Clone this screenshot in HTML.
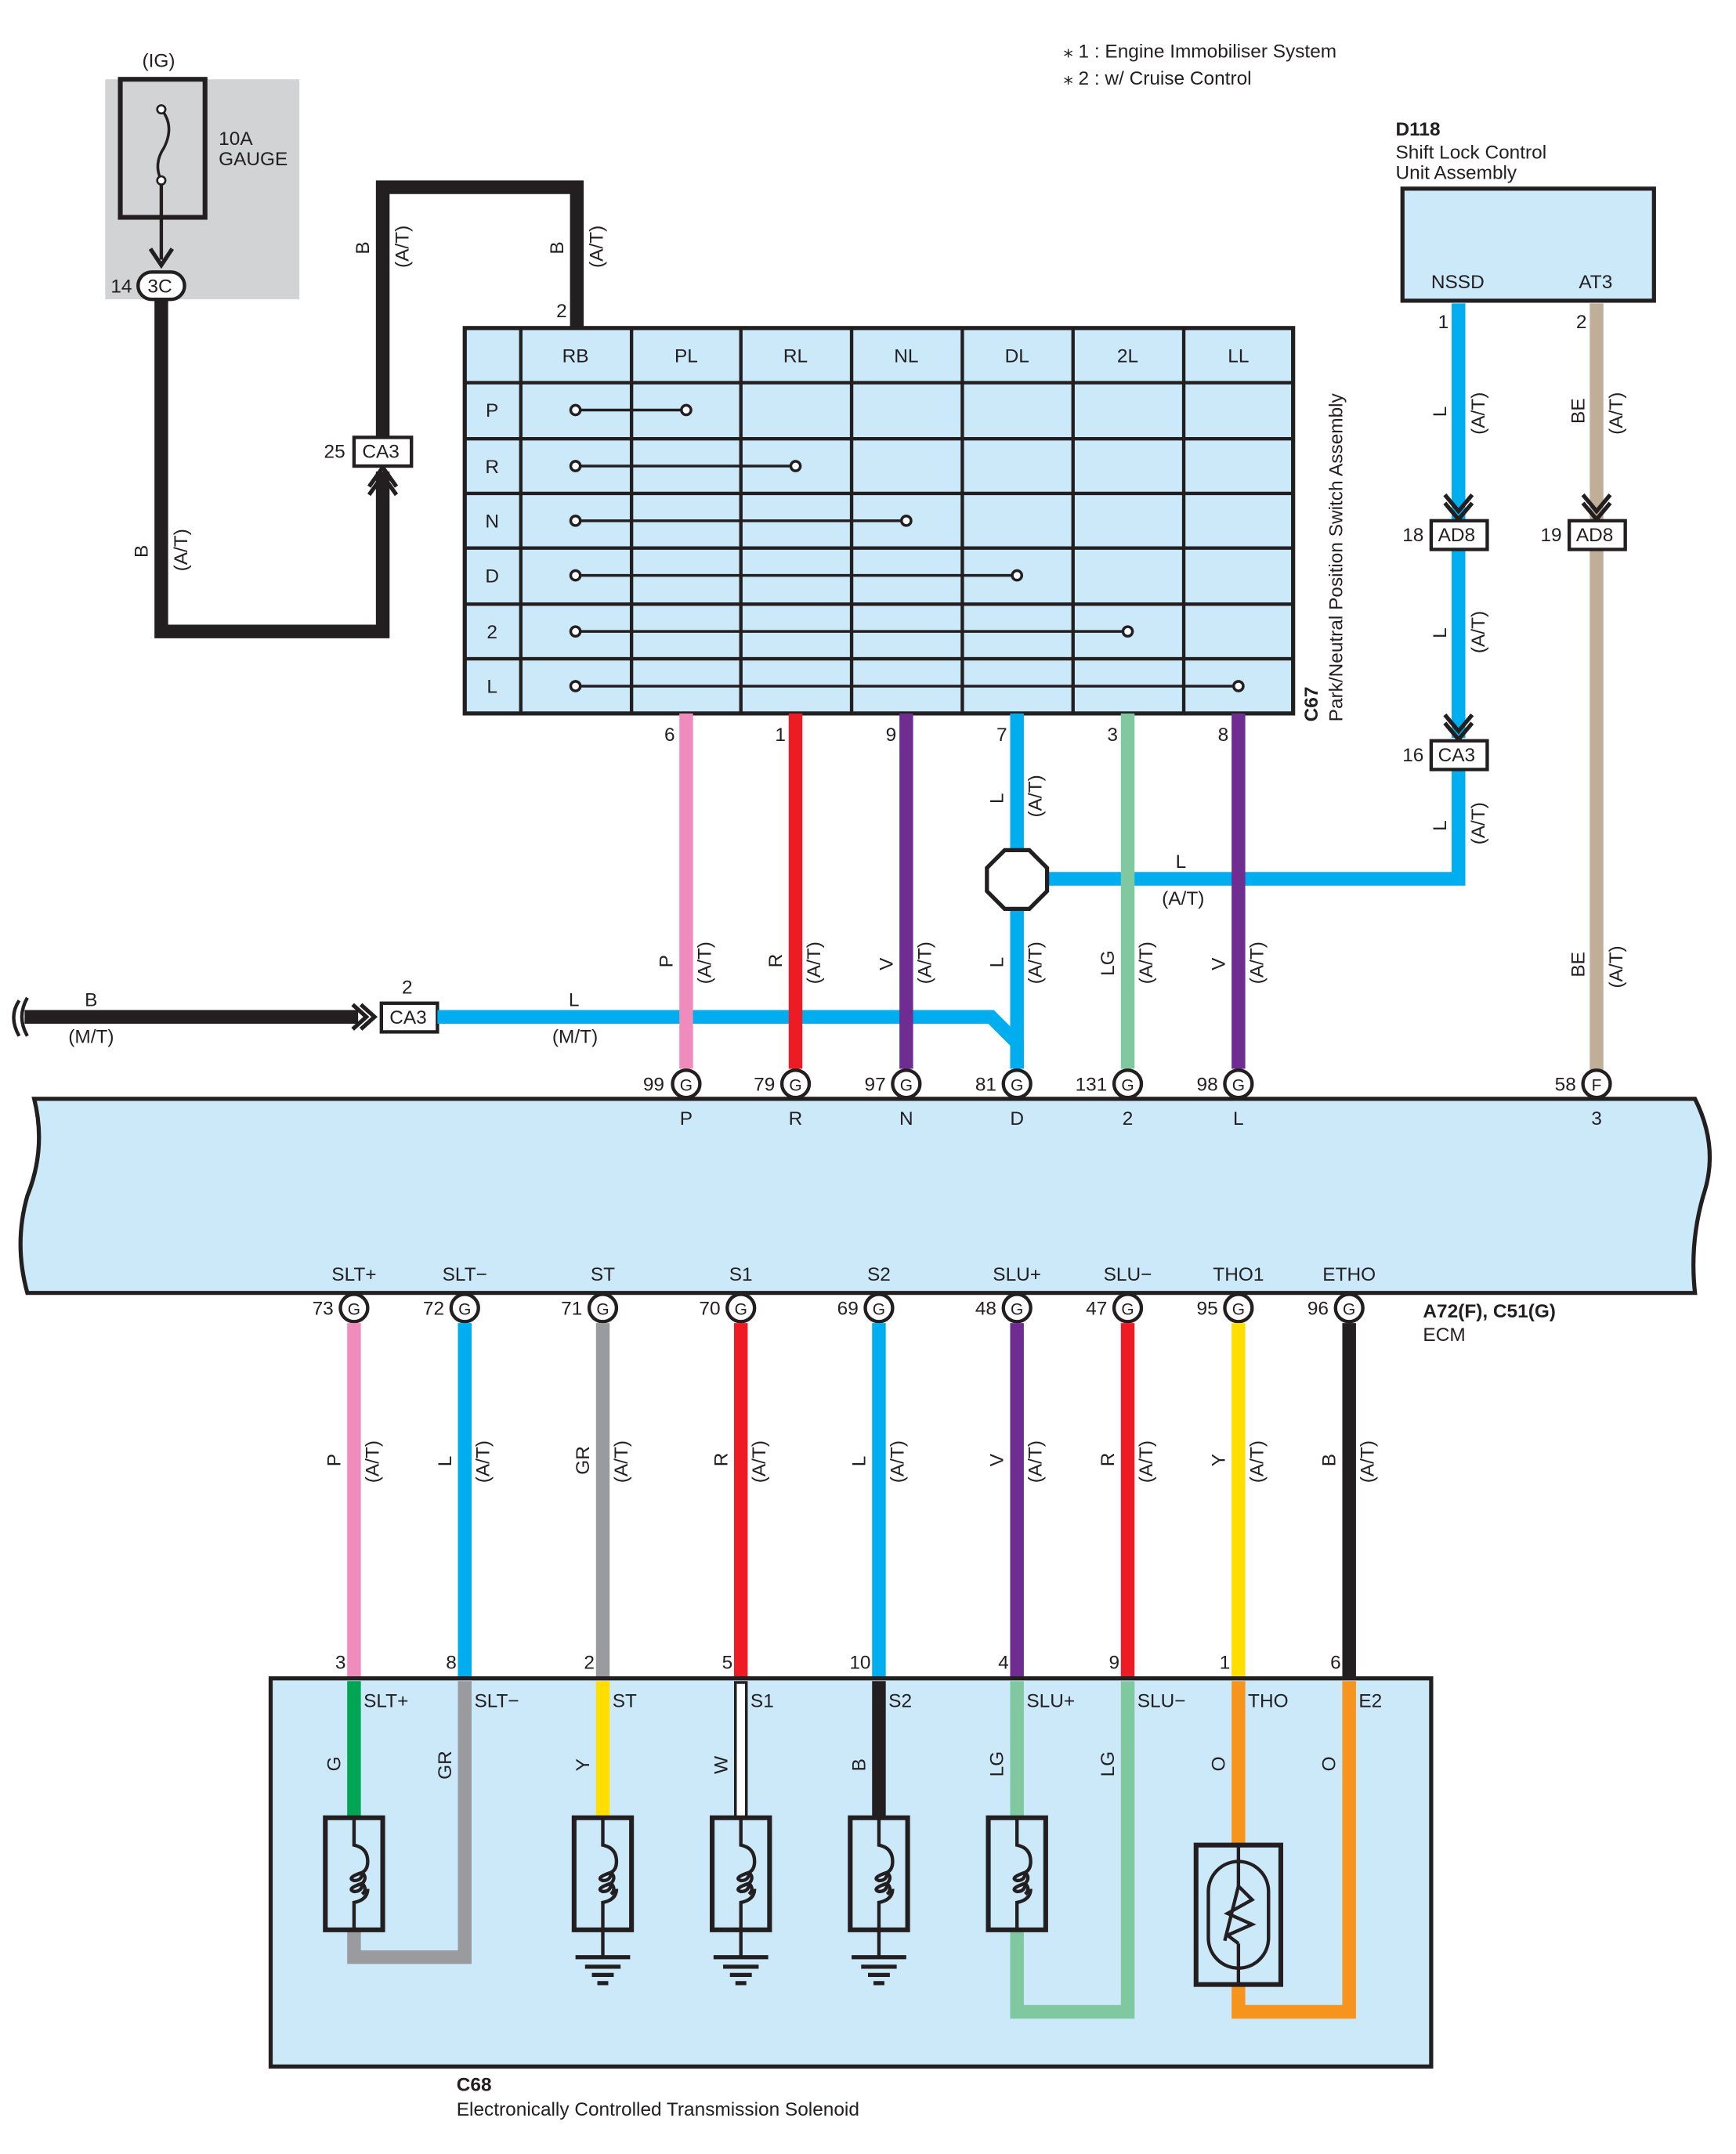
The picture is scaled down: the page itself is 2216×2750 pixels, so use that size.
<!DOCTYPE html>
<html><head><meta charset="utf-8"><style>
html,body{margin:0;padding:0;background:#fff}
svg{display:block}
text{font-family:"Liberation Sans",Arial,sans-serif;font-size:14px;fill:#231f20}
.b{font-weight:bold}
</style></head><body>
<svg width="2216" height="2750" viewBox="0 0 1270 1576" xmlns="http://www.w3.org/2000/svg">
<defs>
<g id="coil">
<rect x="-21" y="0" width="42" height="82" fill="none" stroke="#231f20" stroke-width="3.5"/>
<path d="M0,0 V20 Q10,22 10,32 Q10,38 6,40 Q-6,44 0,46 Q6,46 6,40 M6,40 Q10,44 6,48 Q-6,52 0,54 Q6,54 6,48 M6,48 Q10,52 6,56 M6,40 M10,52 Q10,60 0,62 V82" fill="none" stroke="#231f20" stroke-width="2.5"/>
</g>
<g id="gnd">
<line x1="0" y1="0" x2="0" y2="20" stroke="#231f20" stroke-width="2.5"/>
<line x1="-20" y1="20" x2="20" y2="20" stroke="#231f20" stroke-width="3"/>
<line x1="-13" y1="27" x2="13" y2="27" stroke="#231f20" stroke-width="3"/>
<line x1="-8" y1="33" x2="8" y2="33" stroke="#231f20" stroke-width="3"/>
<line x1="-4" y1="39" x2="4" y2="39" stroke="#231f20" stroke-width="3"/>
</g>
</defs>

<!-- notes -->
<text x="778" y="42">⁎ 1 : Engine Immobiliser System</text>
<text x="778" y="62">⁎ 2 : w/ Cruise Control</text>

<!-- fuse -->
<rect x="77" y="58" width="142" height="161" fill="#d1d3d4"/>
<text x="104" y="49">(IG)</text>
<rect x="88" y="58" width="62" height="101" fill="none" stroke="#231f20" stroke-width="3.5"/>
<path d="M118,80 Q128,92 120,108 Q112,120 118,132" fill="none" stroke="#231f20" stroke-width="2"/>
<circle cx="118" cy="80" r="3" fill="#fff" stroke="#231f20" stroke-width="1.5"/>
<circle cx="118" cy="132" r="3" fill="#fff" stroke="#231f20" stroke-width="1.5"/>
<line x1="118" y1="135" x2="118" y2="190" stroke="#231f20" stroke-width="2.5"/>
<path d="M110,182 L118,194 L126,182" fill="none" stroke="#231f20" stroke-width="3"/>
<text x="160" y="106">10A</text><text x="160" y="121">GAUGE</text>

<!-- black wire IG -->
<path d="M118,215 V462 H280 V345 M280,320 V137 H422 V240" fill="none" stroke="#231f20" stroke-width="10"/>
<path d="M270,362 L280,348 L290,362 M270,356 L280,342 L290,356" fill="none" stroke="#231f20" stroke-width="3"/>
<rect x="101" y="199" width="34" height="20" rx="10" fill="#fff" stroke="#231f20" stroke-width="2.5"/>
<text x="108" y="214">3C</text><text x="81" y="214">14</text>
<rect x="259" y="320" width="42" height="21" fill="#fff" stroke="#231f20" stroke-width="2.5"/>
<text x="265" y="335">CA3</text><text x="237" y="335">25</text>
<text x="407" y="232">2</text>
<text transform="translate(108,408) rotate(-90)">B</text>
<text transform="translate(137,418) rotate(-90)">(A/T)</text>
<text transform="translate(270,186) rotate(-90)">B</text>
<text transform="translate(299,196) rotate(-90)">(A/T)</text>
<text transform="translate(412,186) rotate(-90)">B</text>
<text transform="translate(441,196) rotate(-90)">(A/T)</text>

<!-- switch table -->
<rect x="340" y="240" width="606" height="282" fill="#cce9f9" stroke="#231f20" stroke-width="3"/>
<g stroke="#231f20" stroke-width="2.5">
<line x1="381" y1="240" x2="381" y2="522"/><line x1="462" y1="240" x2="462" y2="522"/>
<line x1="542" y1="240" x2="542" y2="522"/><line x1="623" y1="240" x2="623" y2="522"/>
<line x1="704" y1="240" x2="704" y2="522"/><line x1="785" y1="240" x2="785" y2="522"/>
<line x1="866" y1="240" x2="866" y2="522"/>
<line x1="340" y1="280" x2="946" y2="280"/><line x1="340" y1="321" x2="946" y2="321"/>
<line x1="340" y1="361" x2="946" y2="361"/><line x1="340" y1="401" x2="946" y2="401"/>
<line x1="340" y1="442" x2="946" y2="442"/><line x1="340" y1="482" x2="946" y2="482"/>
</g>
<g stroke="#231f20" stroke-width="2" fill="#fff">
<line x1="421" y1="300" x2="502" y2="300"/><line x1="421" y1="341" x2="582" y2="341"/>
<line x1="421" y1="381" x2="663" y2="381"/><line x1="421" y1="421" x2="744" y2="421"/>
<line x1="421" y1="462" x2="825" y2="462"/><line x1="421" y1="502" x2="906" y2="502"/>
<circle cx="421" cy="300" r="3.5"/><circle cx="502" cy="300" r="3.5"/>
<circle cx="421" cy="341" r="3.5"/><circle cx="582" cy="341" r="3.5"/>
<circle cx="421" cy="381" r="3.5"/><circle cx="663" cy="381" r="3.5"/>
<circle cx="421" cy="421" r="3.5"/><circle cx="744" cy="421" r="3.5"/>
<circle cx="421" cy="462" r="3.5"/><circle cx="825" cy="462" r="3.5"/>
<circle cx="421" cy="502" r="3.5"/><circle cx="906" cy="502" r="3.5"/>
</g>
<g text-anchor="middle">
<text x="421" y="265">RB</text><text x="502" y="265">PL</text><text x="582" y="265">RL</text>
<text x="663" y="265">NL</text><text x="744" y="265">DL</text><text x="825" y="265">2L</text><text x="906" y="265">LL</text>
<text x="360" y="305">P</text><text x="360" y="346">R</text><text x="360" y="386">N</text>
<text x="360" y="426">D</text><text x="360" y="467">2</text><text x="360" y="507">L</text>
</g>
<text class="b" transform="translate(964,528) rotate(-90)">C67</text>
<text transform="translate(982,528) rotate(-90)">Park/Neutral Position Switch Assembly</text>

<!-- D118 -->
<text class="b" x="1021" y="99">D118</text>
<text x="1021" y="116">Shift Lock Control</text>
<text x="1021" y="131">Unit Assembly</text>
<rect x="1026" y="138" width="184" height="82" fill="#cce9f9" stroke="#231f20" stroke-width="3"/>
<text x="1047" y="211">NSSD</text><text x="1155" y="211">AT3</text>

<!-- right wires -->
<path d="M1067,222 V380 M1067,402 V540 M1067,564 V643 H766" fill="none" stroke="#00aeef" stroke-width="10"/>
<path d="M1168,222 V380 M1168,402 V793" fill="none" stroke="#bfae98" stroke-width="10"/>
<g fill="none" stroke="#231f20" stroke-width="3">
<path d="M1057,362 L1067,374 L1077,362 M1057,368 L1067,380 L1077,368"/>
<path d="M1158,362 L1168,374 L1178,362 M1158,368 L1168,380 L1178,368"/>
<path d="M1057,523 L1067,535 L1077,523 M1057,529 L1067,541 L1077,529"/>
</g>
<rect x="1047" y="381" width="41" height="21" fill="#fff" stroke="#231f20" stroke-width="2.5"/><text x="1052" y="396">AD8</text><text x="1026" y="396">18</text>
<rect x="1148" y="381" width="41" height="21" fill="#fff" stroke="#231f20" stroke-width="2.5"/><text x="1153" y="396">AD8</text><text x="1127" y="396">19</text>
<rect x="1047" y="542" width="41" height="21" fill="#fff" stroke="#231f20" stroke-width="2.5"/><text x="1052" y="557">CA3</text><text x="1026" y="557">16</text>
<text x="1052" y="240">1</text><text x="1153" y="240">2</text>
<text transform="translate(1058,305) rotate(-90)">L</text><text transform="translate(1086,318) rotate(-90)">(A/T)</text>
<text transform="translate(1159,310) rotate(-90)">BE</text><text transform="translate(1187,318) rotate(-90)">(A/T)</text>
<text transform="translate(1058,467) rotate(-90)">L</text><text transform="translate(1086,478) rotate(-90)">(A/T)</text>
<text transform="translate(1058,608) rotate(-90)">L</text><text transform="translate(1086,618) rotate(-90)">(A/T)</text>
<text transform="translate(1159,715) rotate(-90)">BE</text><text transform="translate(1187,723) rotate(-90)">(A/T)</text>
<text x="860" y="635">L</text><text x="850" y="662">(A/T)</text>

<!-- left M/T wire -->
<path d="M18,744 H262" stroke="#231f20" stroke-width="10" fill="none"/>
<path d="M20,730 Q12,744 20,758 M14,732 Q6,744 14,758" stroke="#231f20" stroke-width="2.5" fill="none"/>
<path d="M258,735 L268,744 L258,753 M264,735 L274,744 L264,753" stroke="#231f20" stroke-width="3" fill="none"/>
<rect x="279" y="734" width="41" height="21" fill="#fff" stroke="#231f20" stroke-width="2.5"/><text x="285" y="749">CA3</text>
<text x="294" y="727">2</text>
<text x="62" y="736">B</text><text x="50" y="763">(M/T)</text>
<text x="416" y="736">L</text><text x="404" y="763">(M/T)</text>
<path d="M320,744 H725 L744,763 V782" stroke="#00aeef" stroke-width="10" fill="none"/>

<!-- C67 wires -->
<path d="M502,522 V782" stroke="#f08cbc" stroke-width="10"/>
<path d="M582,522 V782" stroke="#ed1c24" stroke-width="10"/>
<path d="M663,522 V782" stroke="#6f2c91" stroke-width="10"/>
<path d="M744,522 V622 M744,664 V782" stroke="#00aeef" stroke-width="10"/>
<path d="M825,522 V782" stroke="#80c9a0" stroke-width="10"/>
<path d="M906,522 V782" stroke="#6f2c91" stroke-width="10"/>
<polygon points="735,622 753,622 766,635 766,652 753,665 735,665 722,652 722,635" fill="#fff" stroke="#231f20" stroke-width="3"/>
<text x="486" y="542">6</text><text x="567" y="542">1</text><text x="648" y="542">9</text>
<text x="729" y="542">7</text><text x="810" y="542">3</text><text x="891" y="542">8</text>
<text transform="translate(492,708) rotate(-90)">P</text><text transform="translate(520,720) rotate(-90)">(A/T)</text>
<text transform="translate(572,708) rotate(-90)">R</text><text transform="translate(600,720) rotate(-90)">(A/T)</text>
<text transform="translate(653,710) rotate(-90)">V</text><text transform="translate(681,720) rotate(-90)">(A/T)</text>
<text transform="translate(734,708) rotate(-90)">L</text><text transform="translate(762,720) rotate(-90)">(A/T)</text>
<text transform="translate(734,588) rotate(-90)">L</text><text transform="translate(762,598) rotate(-90)">(A/T)</text>
<text transform="translate(815,714) rotate(-90)">LG</text><text transform="translate(843,720) rotate(-90)">(A/T)</text>
<text transform="translate(896,710) rotate(-90)">V</text><text transform="translate(924,720) rotate(-90)">(A/T)</text>

<!-- ECM -->
<path d="M25,804 H1240 Q1258,840 1246,875 Q1236,910 1240,946 H20 Q10,910 20,875 Q34,840 25,804 Z" fill="#cce9f9" stroke="#231f20" stroke-width="3"/>
<g fill="#fff" stroke="#231f20" stroke-width="2.5">
<circle cx="502" cy="793" r="10"/><circle cx="582" cy="793" r="10"/><circle cx="663" cy="793" r="10"/>
<circle cx="744" cy="793" r="10"/><circle cx="825" cy="793" r="10"/><circle cx="906" cy="793" r="10"/><circle cx="1168" cy="793" r="10"/>
<circle cx="259" cy="957" r="10"/><circle cx="340" cy="957" r="10"/><circle cx="441" cy="957" r="10"/>
<circle cx="542" cy="957" r="10"/><circle cx="643" cy="957" r="10"/><circle cx="744" cy="957" r="10"/>
<circle cx="825" cy="957" r="10"/><circle cx="906" cy="957" r="10"/><circle cx="987" cy="957" r="10"/>
</g>
<g text-anchor="middle" font-size="12">
<text x="502" y="798" style="font-size:12px">G</text><text x="582" y="798" style="font-size:12px">G</text><text x="663" y="798" style="font-size:12px">G</text>
<text x="744" y="798" style="font-size:12px">G</text><text x="825" y="798" style="font-size:12px">G</text><text x="906" y="798" style="font-size:12px">G</text><text x="1168" y="798" style="font-size:12px">F</text>
<text x="259" y="962" style="font-size:12px">G</text><text x="340" y="962" style="font-size:12px">G</text><text x="441" y="962" style="font-size:12px">G</text>
<text x="542" y="962" style="font-size:12px">G</text><text x="643" y="962" style="font-size:12px">G</text><text x="744" y="962" style="font-size:12px">G</text>
<text x="825" y="962" style="font-size:12px">G</text><text x="906" y="962" style="font-size:12px">G</text><text x="987" y="962" style="font-size:12px">G</text>
<text x="502" y="823">P</text><text x="582" y="823">R</text><text x="663" y="823">N</text><text x="744" y="823">D</text>
<text x="825" y="823">2</text><text x="906" y="823">L</text><text x="1168" y="823">3</text>
<text x="259" y="937">SLT+</text><text x="340" y="937">SLT−</text><text x="441" y="937">ST</text><text x="542" y="937">S1</text>
<text x="643" y="937">S2</text><text x="744" y="937">SLU+</text><text x="825" y="937">SLU−</text><text x="906" y="937">THO1</text><text x="987" y="937">ETHO</text>
</g>
<g text-anchor="end">
<text x="486" y="798">99</text><text x="567" y="798">79</text><text x="648" y="798">97</text><text x="729" y="798">81</text>
<text x="810" y="798">131</text><text x="891" y="798">98</text><text x="1153" y="798">58</text>
<text x="244" y="962">73</text><text x="325" y="962">72</text><text x="426" y="962">71</text><text x="527" y="962">70</text>
<text x="628" y="962">69</text><text x="729" y="962">48</text><text x="810" y="962">47</text><text x="891" y="962">95</text><text x="972" y="962">96</text>
</g>
<text class="b" x="1041" y="964">A72(F), C51(G)</text>
<text x="1041" y="981">ECM</text>

<!-- bottom wires -->
<path d="M259,968 V1228" stroke="#f08cbc" stroke-width="10"/>
<path d="M340,968 V1228" stroke="#00aeef" stroke-width="10"/>
<path d="M441,968 V1228" stroke="#999b9e" stroke-width="10"/>
<path d="M542,968 V1228" stroke="#ed1c24" stroke-width="10"/>
<path d="M643,968 V1228" stroke="#00aeef" stroke-width="10"/>
<path d="M744,968 V1228" stroke="#6f2c91" stroke-width="10"/>
<path d="M825,968 V1228" stroke="#ed1c24" stroke-width="10"/>
<path d="M906,968 V1228" stroke="#ffde00" stroke-width="10"/>
<path d="M987,968 V1228" stroke="#231f20" stroke-width="10"/>
<text transform="translate(249,1073) rotate(-90)">P</text><text transform="translate(277,1085) rotate(-90)">(A/T)</text>
<text transform="translate(330,1073) rotate(-90)">L</text><text transform="translate(358,1085) rotate(-90)">(A/T)</text>
<text transform="translate(431,1079) rotate(-90)">GR</text><text transform="translate(459,1085) rotate(-90)">(A/T)</text>
<text transform="translate(532,1073) rotate(-90)">R</text><text transform="translate(560,1085) rotate(-90)">(A/T)</text>
<text transform="translate(633,1073) rotate(-90)">L</text><text transform="translate(661,1085) rotate(-90)">(A/T)</text>
<text transform="translate(734,1073) rotate(-90)">V</text><text transform="translate(762,1085) rotate(-90)">(A/T)</text>
<text transform="translate(815,1073) rotate(-90)">R</text><text transform="translate(843,1085) rotate(-90)">(A/T)</text>
<text transform="translate(896,1073) rotate(-90)">Y</text><text transform="translate(924,1085) rotate(-90)">(A/T)</text>
<text transform="translate(977,1073) rotate(-90)">B</text><text transform="translate(1005,1085) rotate(-90)">(A/T)</text>
<g text-anchor="end">
<text x="253" y="1221">3</text><text x="334" y="1221">8</text><text x="435" y="1221">2</text><text x="536" y="1221">5</text>
<text x="637" y="1221">10</text><text x="738" y="1221">4</text><text x="819" y="1221">9</text><text x="900" y="1221">1</text><text x="981" y="1221">6</text>
</g>

<!-- C68 -->
<rect x="198" y="1228" width="849" height="284" fill="#cce9f9" stroke="#231f20" stroke-width="3"/>
<path d="M259,1230 V1330" stroke="#00a651" stroke-width="10"/>
<path d="M259,1412 V1432 H340 V1230" stroke="#999b9e" stroke-width="10" fill="none"/>
<path d="M441,1230 V1330" stroke="#ffde00" stroke-width="10"/>
<path d="M542,1230 V1330" stroke="#231f20" stroke-width="10"/>
<path d="M542,1232 V1330" stroke="#fff" stroke-width="6"/>
<path d="M643,1230 V1330" stroke="#231f20" stroke-width="10"/>
<path d="M744,1230 V1330 M744,1412 V1472 H825 V1230" stroke="#80c9a0" stroke-width="10" fill="none"/>
<path d="M906,1230 V1350 M906,1452 V1472 H987 V1230" stroke="#f7941d" stroke-width="10" fill="none"/>
<use href="#coil" x="259" y="1330"/>
<use href="#coil" x="441" y="1330"/><use href="#gnd" x="441" y="1412"/>
<use href="#coil" x="542" y="1330"/><use href="#gnd" x="542" y="1412"/>
<use href="#coil" x="643" y="1330"/><use href="#gnd" x="643" y="1412"/>
<use href="#coil" x="744" y="1330"/>
<rect x="875" y="1350" width="62" height="102" fill="none" stroke="#231f20" stroke-width="3.5"/>
<rect x="884" y="1362" width="44" height="78" rx="22" fill="none" stroke="#231f20" stroke-width="2.5"/>
<path d="M906,1350 V1380 M906,1422 V1452" stroke="#231f20" stroke-width="2.5"/>
<path d="M896,1420 L906,1380 L916,1390 L898,1400 L916,1408 L898,1416 L906,1422" fill="none" stroke="#231f20" stroke-width="2.5"/>
<text x="266" y="1249">SLT+</text><text x="347" y="1249">SLT−</text><text x="448" y="1249">ST</text><text x="549" y="1249">S1</text>
<text x="650" y="1249">S2</text><text x="751" y="1249">SLU+</text><text x="832" y="1249">SLU−</text><text x="913" y="1249">THO</text><text x="994" y="1249">E2</text>
<text transform="translate(249,1296) rotate(-90)">G</text>
<text transform="translate(330,1302) rotate(-90)">GR</text>
<text transform="translate(431,1296) rotate(-90)">Y</text>
<text transform="translate(532,1298) rotate(-90)">W</text>
<text transform="translate(633,1296) rotate(-90)">B</text>
<text transform="translate(734,1300) rotate(-90)">LG</text>
<text transform="translate(815,1300) rotate(-90)">LG</text>
<text transform="translate(896,1296) rotate(-90)">O</text>
<text transform="translate(977,1296) rotate(-90)">O</text>
<text class="b" x="334" y="1530">C68</text>
<text x="334" y="1548">Electronically Controlled Transmission Solenoid</text>
</svg>
</body></html>
